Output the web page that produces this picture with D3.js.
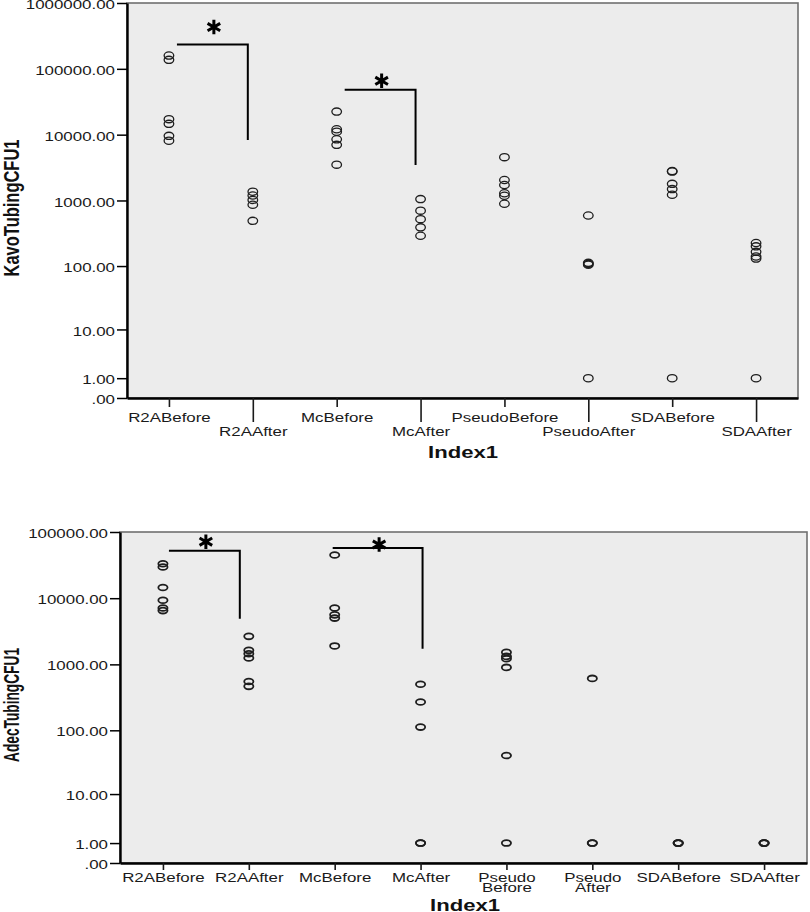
<!DOCTYPE html>
<html>
<head>
<meta charset="utf-8">
<script src="https://cdn.jsdelivr.net/npm/d3@7"></script>
<style>
  body { margin: 0; background: #fff; }
  svg { display: block; font-family: "Liberation Sans", Arial, sans-serif; }
</style>
</head>
<body>
<svg id="chart" width="810" height="912"></svg>
<script>
// values (CFU, plotted on a log(x+1) axis)
const kavoCategories = ["R2ABefore", "R2AAfter", "McBefore", "McAfter", "PseudoBefore", "PseudoAfter", "SDABefore", "SDAAfter"]
const kavoValues = [
  [159000, 137000, 17200, 14600, 9600, 8100],
  [1360, 1190, 1020, 860, 490],
  [22400, 12100, 11100, 8500, 7000, 3500],
  [1050, 700, 520, 390, 290],
  [4550, 2050, 1720, 1290, 1180, 890],
  [590, 112, 108, 105, 1],
  [2800, 2750, 1790, 1490, 1220, 1],
  [225, 200, 165, 140, 130, 1]
]
const kavoTicks = [0, 1, 10, 100, 1000, 10000, 100000, 1000000]
const kavoBrackets = [
  { from: 0, to: 1, top: 234000, end: 8300 },
  { from: 2, to: 3, top: 48000, end: 3470 }
]

const adecCategories = ["R2ABefore", "R2AAfter", "McBefore", "McAfter", "Pseudo\nBefore", "Pseudo\nAfter", "SDABefore", "SDAAfter"]
const adecValues = [
  [33200, 29600, 14500, 9300, 7100, 6500],
  [2650, 1630, 1450, 1250, 550, 465],
  [45000, 7100, 5600, 5000, 1900],
  [500, 270, 112, 1, 1],
  [1520, 1320, 1220, 900, 41, 1],
  [614, 1, 1],
  [1, 1, 1],
  [1, 1, 1]
]
const adecTicks = [0, 1, 10, 100, 1000, 10000, 100000]
const adecBrackets = [
  { from: 0, to: 1, top: 52200, end: 4900 },
  { from: 2, to: 3, top: 57300, end: 1725 }
]

const SX = 1.3 // the original is stretched sideways
const svg = d3.select("#chart")

function drawChart(cfg) {
  const g = svg.append("g")

  const x = d3.scalePoint().domain(cfg.categories).range([cfg.left, cfg.right]).padding(0.5)
  const y = d3.scaleSymlog().constant(1).domain([0, cfg.max]).range([cfg.bottom, cfg.top])

  g.append("rect")
    .attr("x", cfg.left)
    .attr("y", cfg.top)
    .attr("width", cfg.right - cfg.left)
    .attr("height", cfg.bottom - cfg.top)
    .attr("fill", "#ececec")
    .attr("stroke", "#707070")
    .attr("stroke-width", 1.6)

  // points
  const pts = cfg.values.flatMap((vals, i) => vals.map((v) => ({ cat: cfg.categories[i], v })))
  g.selectAll("ellipse")
    .data(pts)
    .join("ellipse")
    .attr("cx", (d) => x(d.cat))
    .attr("cy", (d) => y(d.v))
    .attr("rx", cfg.rx)
    .attr("ry", cfg.ry)
    .attr("fill", "none")
    .attr("stroke", "#1e1e1e")
    .attr("stroke-width", cfg.dotStroke)

  // significance brackets
  cfg.brackets.forEach((b, i) => {
    const x0 = x(cfg.categories[b.from]) + cfg.insets[i][0]
    const x1 = x(cfg.categories[b.to]) + cfg.insets[i][1]
    g.append("path")
      .attr("d", `M${x0},${y(b.top)}H${x1}V${y(b.end)}`)
      .attr("fill", "none")
      .attr("stroke", "#000")
      .attr("stroke-width", 2)
    g.append("path")
      .attr("d", d3.symbol(d3.symbolAsterisk, 150)())
      .attr("transform", `translate(${(x0 + x1) / 2 + 1.5},${y(b.top) - cfg.starLift[i]})`)
      .attr("fill", "none")
      .attr("stroke", "#000")
      .attr("stroke-width", 3)
  })

  // y axis
  const yAxis = d3
    .axisLeft(y)
    .tickValues(cfg.ticks)
    .tickFormat((d) => (d === 0 ? ".00" : d.toFixed(2)))
    .tickSize(10)
    .tickSizeOuter(0)
  const ya = g.append("g").attr("transform", `translate(${cfg.left},0)`).call(yAxis)
  ya.attr("font-family", null).attr("font-size", null)
  ya.select(".domain").attr("stroke", "#000").attr("stroke-width", 2.4)
  ya.selectAll(".tick line").attr("stroke", "#000").attr("stroke-width", 1.5)
  ya.selectAll(".tick text")
    .attr("font-size", 13)
    .attr("fill", "#1a1a1a")
    .attr("x", -12 / SX)
    .attr("dy", "0.43em")
    .attr("transform", `scale(${SX},1)`)

  // x axis
  const xAxis = d3.axisBottom(x).tickSize(cfg.tickShort).tickSizeOuter(0).tickFormat("")
  const xa = g.append("g").attr("transform", `translate(0,${cfg.bottom})`).call(xAxis)
  xa.attr("font-family", null).attr("font-size", null)
  xa.select(".domain").attr("stroke", "#000").attr("stroke-width", 2.4)
  xa.selectAll(".tick line")
    .attr("stroke", "#1a1a1a")
    .attr("stroke-width", 1.6)
    .attr("y2", (d, i) => (cfg.stagger && i % 2 ? cfg.tickLong : cfg.tickShort))
  xa.selectAll(".tick").each(function (d, i) {
    const lines = d.split("\n")
    const ty = cfg.stagger && i % 2 ? cfg.labelLow : cfg.labelHigh
    const t = d3
      .select(this)
      .append("text")
      .attr("text-anchor", "middle")
      .attr("font-size", 13)
      .attr("fill", "#1a1a1a")
      .attr("transform", `translate(0,${ty}) scale(${SX},1)`)
    lines.forEach((ln, k) => t.append("tspan").attr("x", 0).attr("y", k * cfg.lineGap).text(ln))
  })

  // axis titles
  g.append("text")
    .text("Index1")
    .attr("text-anchor", "middle")
    .attr("font-weight", "bold")
    .attr("font-size", 17)
    .attr("fill", "#111")
    .attr("transform", `translate(${cfg.xTitle[0]},${cfg.xTitle[1]}) scale(${SX},1)`)

  g.append("text")
    .text(cfg.yTitle)
    .attr("text-anchor", "middle")
    .attr("font-family", "'Liberation Sans Narrow', 'Liberation Sans', Arial, sans-serif")
    .attr("font-weight", "bold")
    .attr("font-size", 17)
    .attr("fill", "#111")
    .attr("textLength", cfg.yTitleLength)
    .attr("lengthAdjust", "spacingAndGlyphs")
    .attr("transform", `translate(${cfg.yTitlePos[0]},${cfg.yTitlePos[1]}) scale(${SX},1) rotate(-90)`)
}

drawChart({
  categories: kavoCategories,
  values: kavoValues,
  ticks: kavoTicks,
  max: 1000000,
  brackets: kavoBrackets,
  insets: [[8, -5], [8, -5]],
  starLift: [17.5, 9],
  left: 127,
  right: 798,
  top: 3,
  bottom: 398,
  rx: 4.8,
  ry: 3.6,
  dotStroke: 1.3,
  stagger: true,
  tickShort: 9,
  tickLong: 24,
  labelHigh: 23.6,
  labelLow: 38,
  lineGap: 10,
  xTitle: [463, 458],
  yTitle: "KavoTubingCFU1",
  yTitleLength: 137,
  yTitlePos: [18.5, 208]
})

drawChart({
  categories: adecCategories,
  values: adecValues,
  ticks: adecTicks,
  max: 100000,
  brackets: adecBrackets,
  insets: [[6, -9], [-2, 2]],
  starLift: [9, 3.5],
  left: 120,
  right: 807,
  top: 532,
  bottom: 863,
  rx: 4.6,
  ry: 2.9,
  dotStroke: 1.8,
  stagger: false,
  tickShort: 7,
  tickLong: 7,
  labelHigh: 18.8,
  labelLow: 18.8,
  lineGap: 10.6,
  xTitle: [465, 911],
  yTitle: "AdecTubingCFU1",
  yTitleLength: 114,
  yTitlePos: [18.5, 705]
})
</script>
</body>
</html>
